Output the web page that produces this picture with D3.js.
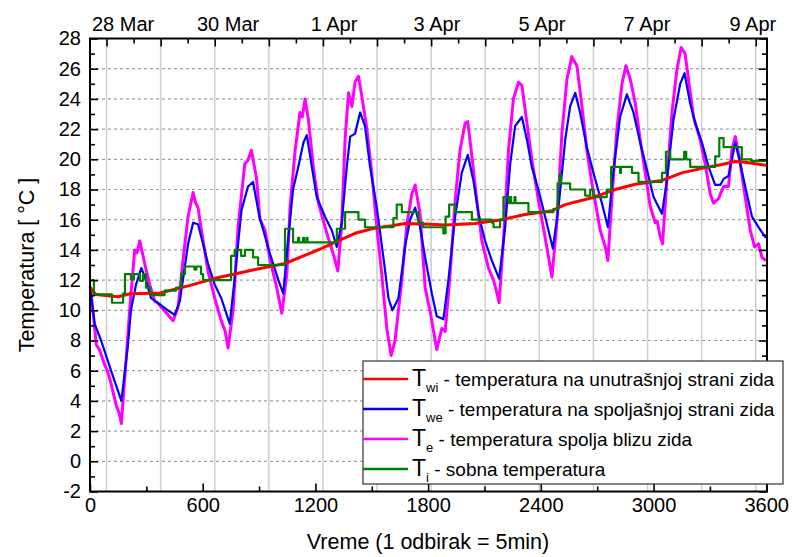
<!DOCTYPE html>
<html>
<head>
<meta charset="utf-8">
<script src="https://cdn.jsdelivr.net/npm/d3@7"></script>
<style>
  body { margin: 0; background: #fff; }
  text { font-family: "Liberation Sans", Arial, sans-serif; fill: #000; }
</style>
</head>
<body>
<script>
// samples (1 sample = 5 min) and temperatures
const twi = [[0,11.5],[32,11.05],[149,10.9],[213,11.1],[373,11.15],[533,11.65],[660,12.1],[825,12.55],[879,12.7],
  [1038,13.1],[1234,14.1],[1321,14.6],[1411,15.1],[1518,15.45],[1607,15.6],[1677,15.75],[1811,15.7],[1891,15.65],
  [2050,15.75],[2192,16.0],[2317,16.35],[2459,16.6],[2530,17.0],[2672,17.45],[2796,18.0],[2903,18.35],[3045,18.6],
  [3151,19.1],[3258,19.4],[3364,19.65],[3435,19.85],[3488,19.8],[3598,19.6]];

const twe = [[0,11.5],[25,9.1],[59,8.0],[112,6.0],[167,4.0],[202,7.7],[218,10],[245,11.7],[273,12.8],[298,12],
  [325,10.8],[371,10.4],[415,10],[451,9.7],[478,10.6],[504,12.8],[522,14.4],[549,15.8],[575,15.7],[602,14.4],
  [628,13.1],[664,11.7],[699,10.8],[744,9.1],[771,12.2],[806,16.6],[841,18.2],[868,18.5],[900,16.3],[959,13.7],
  [1003,12],[1029,11.1],[1054,14.6],[1081,18],[1109,19.5],[1136,21.1],[1154,21.6],[1181,19.5],[1207,17.5],
  [1251,16.2],[1287,15.3],[1314,14.2],[1340,15.8],[1367,19.5],[1385,21.5],[1411,21.7],[1438,23.1],[1464,22.2],
  [1491,19.5],[1527,16.8],[1562,13.5],[1589,10.8],[1610,10],[1642,10.8],[1677,14.2],[1704,16],[1731,16.8],
  [1757,15.5],[1784,13.5],[1820,11.1],[1846,9.6],[1881,9.4],[1908,12],[1944,16.2],[1979,19.1],[2011,20.3],
  [2041,18.6],[2068,16.4],[2103,14.6],[2139,13.3],[2178,12.1],[2210,15.5],[2237,19.7],[2263,22.2],[2299,22.8],
  [2326,21.3],[2352,19.5],[2387,18],[2423,16.2],[2464,14.1],[2494,16.8],[2530,21.3],[2556,23.5],[2583,24.4],
  [2609,23.1],[2645,20.8],[2680,19.1],[2725,17.1],[2757,15.5],[2787,19.3],[2822,22.8],[2858,24.3],[2893,23.1],
  [2929,21.1],[2965,19.3],[3000,17.5],[3045,16.4],[3071,18.6],[3106,22.6],[3142,25],[3165,25.7],[3195,23.7],
  [3222,22.4],[3258,21.1],[3293,19.5],[3328,18.3],[3355,18.3],[3373,18.7],[3399,18.9],[3435,21.1],[3462,19.7],
  [3488,18.2],[3524,16.2],[3559,15.5],[3598,14.8]];

const te = [[0,11.6],[4,11.4],[34,7.7],[50,7.4],[78,6.4],[95,5.9],[113,5.1],[128,4.3],[140,3.7],[155,3.2],[167,2.5],
  [185,5.5],[211,10],[238,14],[250,13.8],[265,14.6],[291,13.1],[318,11.7],[345,10.6],[360,10.5],[380,10.2],[415,9.7],
  [442,9.3],[469,10.2],[495,13.3],[522,16.2],[549,17.8],[560,17.2],[575,16.8],[602,14.6],[628,12.6],[664,10.8],
  [699,9.3],[720,8.6],[735,7.5],[762,10],[788,15.5],[824,19.7],[840,19.9],[859,20.6],[886,18.8],[905,16],[932,15.3],
  [959,13.3],[994,11.5],[1021,9.8],[1048,12.4],[1065,16.8],[1092,20.6],[1118,23.1],[1130,22.8],[1145,24],[1163,22.6],
  [1189,19.5],[1216,17.1],[1261,15.1],[1296,13.7],[1319,12.6],[1340,15.7],[1358,21.3],[1376,24.4],[1394,23.5],
  [1411,25.1],[1429,25.5],[1447,24.2],[1474,22],[1500,19.1],[1527,15.5],[1553,12.4],[1580,8.8],[1603,7],[1624,8],
  [1660,12],[1687,15.7],[1713,17.7],[1731,18.3],[1757,16.4],[1784,11.5],[1811,9.9],[1846,7.4],[1873,8.8],[1891,8.6],
  [1917,12.4],[1944,17.3],[1970,20.6],[1997,22.4],[2011,22.5],[2033,20.2],[2059,17.3],[2086,14.6],[2121,12.8],
  [2148,12],[2165,11.2],[2178,10.5],[2201,14.6],[2228,20.6],[2254,24],[2281,25.1],[2299,24.9],[2326,22.4],[2352,20],
  [2387,17.3],[2423,14.8],[2440,13.6],[2459,12.2],[2485,15.7],[2512,21.7],[2539,25.3],[2565,26.8],[2592,26.2],
  [2619,23.5],[2645,20.6],[2672,18.4],[2695,16.8],[2716,15.3],[2743,14.2],[2757,13.3],[2779,17.5],[2805,22],[2832,25],
  [2853,26.2],[2876,25.3],[2903,23.7],[2929,21.3],[2956,19.1],[2982,16.9],[3009,15.8],[3020,15.9],[3035,14.9],
  [3048,14.4],[3071,18.6],[3098,23.1],[3124,25.9],[3147,27.4],[3168,27],[3186,25.3],[3213,22.8],[3248,21.3],
  [3275,19.7],[3302,17.7],[3319,17.1],[3346,17.4],[3373,18.2],[3399,18.2],[3417,20.6],[3435,21.5],[3456,20.2],
  [3488,17.5],[3515,15.3],[3538,14.2],[3559,14.4],[3577,13.5],[3598,13.3]];

// room temperature is logged in steps: [start sample, value]
const ti = [[0,12.0],[21,11.05],[117,10.5],[176,11.1],[186,12.4],[218,12.05],[234,12.4],[266,11.95],[282,12.4],
  [298,11.5],[320,11.0],[397,11.3],[458,11.5],[485,12.4],[506,12.9],[556,12.7],[566,12.9],[591,12.4],[602,12.0],
  [751,13.6],[770,14.0],[804,13.6],[825,14.0],[868,13.5],[895,13.0],[1038,15.4],[1081,14.5],[1108,14.8],[1113,14.5],
  [1134,14.8],[1140,14.5],[1153,14.8],[1158,14.5],[1314,15.4],[1358,16.5],[1429,16.0],[1464,15.5],[1615,16.1],
  [1633,17.0],[1660,16.5],[1748,15.8],[1773,15.5],[1881,15.1],[1893,16.2],[1912,17.0],[1944,16.5],[2033,16.0],
  [2139,15.8],[2148,15.5],[2183,16.0],[2201,17.5],[2228,17.1],[2237,17.5],[2242,17.1],[2260,17.5],[2265,17.1],
  [2334,16.5],[2467,16.7],[2489,18.4],[2500,19.0],[2506,18.4],[2556,18.0],[2636,17.6],[2663,18.0],[2679,17.6],
  [2689,17.5],[2751,18.0],[2774,19.5],[2822,19.1],[2827,19.5],[2885,19.1],[2920,18.5],[3045,19.1],[3066,20.5],
  [3089,20.0],[3163,20.5],[3174,20.0],[3195,19.5],[3328,20.2],[3350,21.4],[3373,20.8],[3470,20.0],[3520,19.9],
  [3604,19.85]];

const bottomTicks = [0, 600, 1200, 1800, 2400, 3000, 3600];
const bottomMinor = [300, 900, 1500, 2100, 2700, 3300];
const yMajor = [-2, 0, 2, 4, 6, 8, 10, 12, 14, 16, 18, 20, 22, 24, 26, 28];
const yMinor = [-1, 1, 3, 5, 7, 9, 11, 13, 15, 17, 19, 21, 23, 25, 27];
const yGrid = [0, 2, 4, 6, 8, 10, 12, 14, 16, 18, 20, 22, 24, 26];
// midnights of each day (vertical grid) and the noon ticks between them, in samples
const dayLines = [88, 376, 664, 952, 1240, 1528, 1816, 2104, 2392, 2680, 2968, 3256, 3544];
const noonTicks = [232, 520, 808, 1096, 1384, 1672, 1960, 2248, 2536, 2824, 3112, 3400];
const topLabels = ["28 Mar", "30 Mar", "1 Apr", "3 Apr", "5 Apr", "7 Apr", "9 Apr"];
const topLabelAt = [176, 735, 1299, 1847, 2406, 2965, 3529];

const series = [
  { key: "wi", data: twi, color: "#ff0000", w: 3, text: " - temperatura na unutrašnjoj strani zida" },
  { key: "we", data: twe, color: "#0000ff", w: 2.2, text: " - temperatura na spoljašnjoj strani zida" },
  { key: "e", data: te, color: "#ff00ff", w: 3, text: " - temperatura spolja blizu zida" },
  { key: "i", data: ti, color: "#008000", w: 2.2, text: " - sobna temperatura" }
];

const width = 792, height = 557;
const plotL = 90, plotR = 767, plotT = 38.5, plotB = 491.5;

const svg = d3.select("body").append("svg")
  .attr("width", width).attr("height", height);

const x = d3.scaleLinear().domain([0, 3604]).range([plotL, plotR]);
const y = d3.scaleLinear().domain([-2, 28]).range([plotB, plotT]);

// grid
svg.append("g").selectAll("line").data(dayLines).enter().append("line")
  .attr("x1", d => x(d)).attr("x2", d => x(d))
  .attr("y1", plotT).attr("y2", plotB)
  .attr("stroke", "#cfcfcf").attr("stroke-width", 1.5);

svg.append("g").selectAll("line").data(yGrid).enter().append("line")
  .attr("x1", plotL).attr("x2", plotR)
  .attr("y1", d => y(d)).attr("y2", d => y(d))
  .attr("stroke", "#a0a0a0").attr("stroke-width", 1.2)
  .attr("stroke-dasharray", "3,3");

// lines: magenta, blue, red, green
const line = d3.line().x(d => x(d[0])).y(d => y(d[1]));
const stepLine = d3.line().x(d => x(d[0])).y(d => y(d[1])).curve(d3.curveStepAfter);
const drawOrder = [series[2], series[1], series[0], series[3]];
drawOrder.forEach(s => {
  svg.append("path")
    .datum(s.data)
    .attr("fill", "none")
    .attr("stroke", s.color)
    .attr("stroke-width", s.w)
    .attr("stroke-linejoin", "round")
    .attr("d", s.key === "i" ? stepLine : line);
});

// axes
const fontSize = 20;
const plain = d => String(d);
const gBottom = svg.append("g").attr("transform", `translate(0,${plotB})`)
  .call(d3.axisBottom(x).tickValues(bottomTicks).tickSize(-8).tickPadding(6).tickFormat(plain));
gBottom.append("g")
  .call(d3.axisBottom(x).tickValues(bottomMinor).tickSize(-5).tickFormat(""));

const gLeft = svg.append("g").attr("transform", `translate(${plotL},0)`)
  .call(d3.axisLeft(y).tickValues(yMajor).tickSize(-8).tickPadding(9).tickFormat(plain));
gLeft.append("g").call(d3.axisLeft(y).tickValues(yMinor).tickSize(-5).tickFormat(""));

const gRight = svg.append("g").attr("transform", `translate(${plotR},0)`)
  .call(d3.axisRight(y).tickValues(yMajor).tickSize(-8).tickFormat(""));
gRight.append("g").call(d3.axisRight(y).tickValues(yMinor).tickSize(-5).tickFormat(""));

const gTop = svg.append("g").attr("transform", `translate(0,${plotT})`)
  .call(d3.axisTop(x).tickValues(dayLines).tickSize(-8).tickFormat(""));
gTop.append("g").call(d3.axisTop(x).tickValues(noonTicks).tickSize(-5).tickFormat(""));

svg.selectAll(".domain").remove();
svg.selectAll(".tick line").attr("stroke", "#000").attr("stroke-width", 1.6);
svg.selectAll(".tick text").attr("font-size", fontSize)
  .style("font-family", "'Liberation Sans', Arial, sans-serif").attr("fill", "#000");

// top date labels
svg.append("g").selectAll("text").data(topLabels).enter().append("text")
  .attr("x", (d, i) => x(topLabelAt[i]))
  .attr("y", 31)
  .attr("text-anchor", "middle")
  .attr("font-size", fontSize)
  .text(d => d);

// frame
svg.append("rect")
  .attr("x", plotL).attr("y", plotT)
  .attr("width", plotR - plotL).attr("height", plotB - plotT)
  .attr("fill", "none").attr("stroke", "#000").attr("stroke-width", 2);

// titles
svg.append("text")
  .attr("x", 428).attr("y", 549)
  .attr("text-anchor", "middle")
  .attr("font-size", 21.5)
  .text("Vreme (1 odbirak = 5min)");

svg.append("text")
  .attr("transform", "translate(34,265) rotate(-90)")
  .attr("text-anchor", "middle")
  .attr("font-size", 21.5)
  .text("Temperatura [ °C ]");

// legend
const legend = svg.append("g").attr("transform", "translate(363,361)");
legend.append("rect")
  .attr("width", 420).attr("height", 123)
  .attr("fill", "#fff").attr("stroke", "#333").attr("stroke-width", 1.2);

const item = legend.selectAll("g.item").data(series).enter().append("g")
  .attr("class", "item")
  .attr("transform", (d, i) => `translate(0,${18 + i * 30})`);

item.append("line")
  .attr("x1", 0).attr("x2", 45).attr("y1", 0).attr("y2", 0)
  .attr("stroke", d => d.color).attr("stroke-width", 2.5);

const label = item.append("text")
  .attr("x", 49).attr("y", 7)
  .attr("font-size", 19);
label.append("tspan").attr("font-size", 23).text("T");
label.append("tspan").attr("font-size", 13).attr("dy", 6).text(d => d.key);
label.append("tspan").attr("dy", -6).text(d => d.text);
</script>
</body>
</html>
